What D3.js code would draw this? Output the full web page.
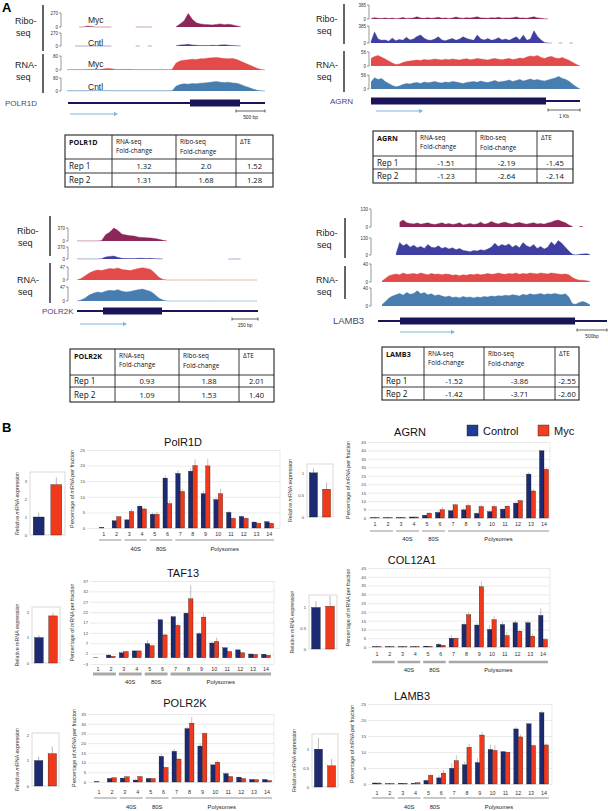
<!DOCTYPE html>
<html>
<head>
<meta charset="utf-8">
<script src="https://cdn.jsdelivr.net/npm/d3@7"></script>
<style>
  body { margin: 0; background: #fff; }
  svg { display: block; }
</style>
</head>
<body>
<div id="container"></div>
<script>
// ---------- panel A : coverage tracks (null = no data) ----------
const polr1dRiboMyc  = [null,null,null,0,0,15,10,0,0,0,0,0,null,null,null,null,null,0,0,0,0,0,null,null,null,null,null,5,60,120,260,150,80,60,50,45,40,50,60,45,55,40,20,5,null,null,null,null,null,null];
const polr1dRiboCntl = [null,null,0,0,0,0,0,0,0,0,0,0,null,null,null,null,null,0,0,null,0,0,null,null,0,null,null,5,20,25,35,20,15,10,10,10,15,10,20,25,15,10,5,0,null,null,null,null,null,null];
const polr1dRnaMyc   = [1,2,2,2,2,3,3,3,3,6,8,7,3,3,3,3,3,2,2,2,2,2,2,2,2,2,3,40,52,56,58,62,60,64,65,68,70,72,68,66,64,66,60,50,40,30,20,10,3,0];
const polr1dRnaCntl  = [1,1,1,1,1,2,2,2,2,2,2,1,1,1,1,1,1,1,1,1,1,1,1,1,1,1,1,30,40,44,42,46,44,48,50,52,56,58,54,52,54,50,48,40,30,22,12,5,1,0];

const agrnRiboMyc  = [10,35,20,15,30,12,25,10,18,40,15,22,30,60,25,18,35,20,28,45,20,30,15,25,55,30,20,35,25,40,60,30,25,20,35,28,45,22,30,25,35,55,25,30,20,40,60,30,20,5,0,null,0,null,null,0,null,0,null,0];
const agrnRiboCntl = [30,250,90,60,70,40,110,50,80,60,130,70,90,150,180,110,70,60,90,140,70,50,80,100,60,90,140,100,80,60,180,90,70,100,60,80,120,70,90,60,100,140,70,180,60,90,280,150,70,10,0,0,null,0,0,null,0,0,null,0];
const agrnRnaMyc   = [30,38,42,35,28,20,12,6,8,14,18,20,22,24,22,26,24,25,28,26,24,27,25,28,26,24,27,29,25,27,30,28,26,24,28,30,27,25,28,30,26,28,32,30,36,40,38,42,34,30,36,38,32,30,34,28,22,14,6,0];
const agrnRnaCntl  = [28,45,38,42,30,22,14,9,12,18,22,20,24,26,22,28,25,27,30,26,24,28,26,30,28,25,22,26,28,30,27,32,28,26,30,34,28,30,32,36,30,34,38,32,36,40,35,38,34,32,36,40,44,50,42,38,30,18,8,0];

const polr2kRiboMyc  = [3,3,3,3,3,3,10,180,250,370,300,190,170,150,140,110,100,90,85,70,50,20,0,null,null,null,null,null,null,null,null,null,null,null,null,null,null,null,null,null,null,null,null,null,null];
const polr2kRiboCntl = [3,3,3,3,3,3,10,60,80,90,50,20,15,15,15,20,25,15,20,10,5,0,null,null,null,null,null,null,null,null,null,null,null,null,null,null,null,0,0,0,0,null,null,null,null];
const polr2kRnaMyc   = [0,5,15,25,32,36,34,38,42,40,43,38,36,34,38,42,44,42,38,25,10,2,0,0,0,0,0,0,0,0,0,0,0,0,0,0,0,0,0,0,0,0,0,0,0];
const polr2kRnaCntl  = [0,3,10,20,26,30,28,33,36,34,38,33,30,32,35,38,40,36,32,22,10,3,0,0,0,0,0,0,0,0,0,0,0,0,0,0,0,0,0,0,0,0,0,0,0];

const lamb3RiboMyc  = [null,null,3,null,null,35,50,30,25,22,28,20,25,30,22,18,24,30,20,25,18,22,30,15,20,25,18,22,35,20,25,40,28,22,30,35,25,20,28,32,25,20,26,30,22,25,20,28,35,45,50,40,30,15,3,null,3,3,null,3];
const lamb3RiboCntl = [null,null,5,null,10,95,70,85,60,75,55,65,50,80,60,55,70,50,60,45,55,40,50,35,30,25,35,30,40,35,45,60,90,65,80,70,85,60,75,55,95,70,60,80,50,65,45,60,100,75,110,90,60,30,5,0,5,8,10,3];
const lamb3RnaMyc   = [2,8,14,16,18,16,20,17,18,19,17,20,18,16,19,17,18,16,18,17,15,16,14,16,15,17,16,18,16,17,19,17,18,20,18,17,19,18,20,17,19,18,20,19,18,20,19,18,20,19,18,17,18,16,10,6,4,4,3,1];
const lamb3RnaCntl  = [3,10,18,22,25,28,24,30,26,28,34,27,30,25,27,23,25,22,20,22,19,20,18,21,19,20,18,20,19,21,20,22,21,23,22,24,23,25,24,22,26,24,27,25,26,28,25,27,26,28,26,25,27,20,5,4,8,10,7,2];

// track scale maxima (printed on the tracks)
const polr1dMax = [270, 270, 80, 80];
const agrnMax   = [385, 385, 56, 56];
const polr2kMax = [370, 370, 47, 47];
const lamb3Max  = [130, 130, 40, 40];

// ---------- panel A : tables ----------
const tableHead = [["RNA-seq", "Fold-change"], ["Ribo-seq", "Fold-change"], ["ΔTE"]];
const repNames  = ["Rep 1", "Rep 2"];
const polr1dTable = [["1.32", "2.0", "1.52"], ["1.31", "1.68", "1.28"]];
const agrnTable   = [["-1.51", "-2.19", "-1.45"], ["-1.23", "-2.64", "-2.14"]];
const polr2kTable = [["0.93", "1.88", "2.01"], ["1.09", "1.53", "1.40"]];
const lamb3Table  = [["-1.52", "-3.86", "-2.55"], ["-1.42", "-3.71", "-2.60"]];

// ---------- panel B : polysome profiles ----------
const fractions = ["1","2","3","4","5","6","7","8","9","10","11","12","13","14"];
const fractionGroups = [["", "1", "2"], ["40S", "3", "4"], ["80S", "5", "6"], ["Polysomes", "7", "14"]];
const seriesNames = ["Control", "Myc"];

const polr1dCtrl    = [0.2,2.3,2.6,7.0,4.4,16.0,17.5,18.2,11.0,9.1,5.0,3.7,1.9,2.0];
const polr1dMyc     = [0,3.6,5.3,6.1,4.4,7.8,11.7,20.0,19.9,11.0,3.1,3.1,1.5,1.5];
const polr1dCtrlErr = [0,0.3,0.3,0.5,0.5,0.8,1.0,0.8,1.0,0.8,0.5,0.3,0.2,0.2];
const polr1dMycErr  = [0,0.3,0.7,0.5,0.8,1.0,0.8,2.0,2.3,1.6,0.3,0.3,0.2,0.2];

const agrnCtrl    = [0.2,0.2,0.3,0.6,1.6,3.3,4.3,4.8,2.7,3.8,5.2,8.8,26.0,39.8];
const agrnMyc     = [0.2,0.2,0.3,0.6,2.9,4.9,7.8,7.4,6.8,6.8,7.0,10.3,16.0,28.8];
const agrnCtrlErr = [0,0,0,0,0.3,0.8,0.4,1.2,0.8,0.6,0.8,0.5,1.0,0.5];
const agrnMycErr  = [0,0,0,0,0.3,1.5,0.5,1.2,0.8,1.2,0.8,0.5,1.0,0.8];

const taf13Ctrl    = [0.1,1.3,2.4,3.3,6.8,18.3,19.8,21.5,11.6,7.1,4.8,3.8,1.8,1.7];
const taf13Myc     = [0,0.7,3.0,3.3,5.8,11.0,15.6,28.4,19.6,7.9,3.0,2.4,1.6,1.2];
const taf13CtrlErr = [0,0.3,0.5,0.3,1.8,0.5,0.5,0.4,0.8,1.0,0.5,0.3,0.2,0.2];
const taf13MycErr  = [0,0.2,0.3,0.3,0.5,0.5,0.6,6.5,1.8,1.8,0.3,0.3,0.2,0.2];

const col12a1Ctrl    = [0.2,0.2,0.2,0.2,0.5,1.5,5.0,12.9,12.5,10.0,12.8,13.8,13.8,18.0];
const col12a1Myc     = [0.2,0.2,0.2,0.2,0.3,1.0,5.0,18.4,34.3,15.6,6.5,9.0,6.2,4.3];
const col12a1CtrlErr = [0,0,0,0,0.1,0.8,2.0,1.0,1.2,2.5,1.5,1.2,1.2,4.0];
const col12a1MycErr  = [0,0,0,0,0.1,0.3,0.3,1.5,3.0,2.0,2.0,0.8,1.5,0.6];

const polr2kCtrl    = [0.2,1.8,2.0,1.0,1.8,13.2,15.8,27.5,18.5,8.8,4.3,2.5,1.3,1.3];
const polr2kMyc     = [0,2.2,2.7,2.8,1.8,7.5,11.8,30.3,25.0,10.2,2.8,1.8,1.2,0.8];
const polr2kCtrlErr = [0,0.2,0.3,0.3,0.2,1.3,1.2,1.0,1.5,0.3,0.3,0.3,0.2,0.2];
const polr2kMycErr  = [0,0.2,0.3,0.3,0.2,0.3,0.5,3.2,0.5,1.0,0.3,0.2,0.2,0.2];

const lamb3Ctrl    = [0.3,0.1,0.2,0.2,1.1,1.9,4.9,6.0,6.7,10.8,10.1,17.2,18.8,22.3];
const lamb3Myc     = [0.3,0.1,0.2,0.4,2.7,3.4,7.3,11.5,15.3,10.5,9.9,14.7,12.0,12.2];
const lamb3CtrlErr = [0.3,0,0.1,0.1,0.5,0.8,1.6,1.0,1.3,1.5,0.3,0.6,0.3,0.5];
const lamb3MycErr  = [0.3,0,0.1,0.1,0.6,1.0,1.7,1.0,1.0,1.7,0.2,0.8,0.3,0.5];

// relative mRNA expression (Control, Myc) and error
const polr1dRel  = [1.0, 2.8],  polr1dRelErr  = [0.25, 0.4];
const agrnRel    = [1.0, 0.63], agrnRelErr    = [0.1, 0.15];
const taf13Rel   = [1.0, 1.85], taf13RelErr   = [0.1, 0.12];
const col12a1Rel = [1.0, 1.03], col12a1RelErr = [0.15, 0.25];
const polr2kRel  = [1.0, 1.27], polr2kRelErr  = [0.15, 0.28];
const lamb3Rel   = [1.0, 0.56], lamb3RelErr   = [0.3, 0.18];

// ---------------------------------------------------------------------------
const W = 608, H = 811;
const svg = d3.select("#container").append("svg").attr("width", W).attr("height", H);
const SANS = "'Liberation Sans', Arial, sans-serif";
const TBL = "'Open Sans', 'Liberation Sans', sans-serif";

const trackColors = ["#86194f", "#35359c", "#e0413f", "#3d76ab"];
const ctrlColor = "#1c2a72", mycColor = "#f0391a";

svg.append("text").attr("x", 2).attr("y", 12).text("A")
  .attr("font-family", SANS).attr("font-weight", "bold").attr("font-size", 13);
svg.append("text").attr("x", 2).attr("y", 432).text("B")
  .attr("font-family", SANS).attr("font-weight", "bold").attr("font-size", 13);

function drawGene(c, tracks, maxes) {
  const g = svg.append("g");
  const x = d3.scaleLinear().domain([0, tracks[0].length - 1]).range([c.x0, c.x1]);
  tracks.forEach((vals, k) => {
    const [top, base] = c.tracks[k];
    const y = d3.scaleLinear().domain([0, maxes[k]]).range([base, top]);
    const area = d3.area().defined(d => d != null).x((d, i) => x(i)).y0(base).y1(d => y(d));
    const line = d3.line().defined(d => d != null).x((d, i) => x(i)).y(d => y(d));
    g.append("path").attr("d", area(vals)).attr("fill", trackColors[k]).attr("opacity", 0.95);
    g.append("path").attr("d", line(vals)).attr("fill", "none")
      .attr("stroke", trackColors[k]).attr("stroke-width", 0.6).attr("opacity", 0.7);
    // scale bracket
    g.append("path").attr("d", `M${c.bx - 2},${top}H${c.bx}V${base}H${c.bx - 2}`)
      .attr("fill", "none").attr("stroke", "#333").attr("stroke-width", 0.5);
    g.append("text").attr("x", c.bx - 3).attr("y", top + 2).text(maxes[k])
      .attr("text-anchor", "end").attr("font-family", SANS).attr("font-size", 4.5).attr("fill", "#333");
    g.append("text").attr("x", c.bx - 3).attr("y", base + 1.5).text("0")
      .attr("text-anchor", "end").attr("font-family", SANS).attr("font-size", 4.5).attr("fill", "#333");
    if (c.sampleX) {
      g.append("text").attr("x", c.sampleX).attr("y", c.sampleY[k]).text(k % 2 ? "Cntl" : "Myc")
        .attr("font-family", SANS).attr("font-size", 8.5).attr("fill", "#222");
    }
  });
  // Ribo-seq / RNA-seq labels and bars
  [["Ribo-", "seq"], ["RNA-", "seq"]].forEach((lab, k) => {
    g.append("text").attr("x", c.lx).attr("y", c.ly[k]).text(lab[0])
      .attr("font-family", SANS).attr("font-size", 9).attr("fill", "#222");
    g.append("text").attr("x", c.lx + 1).attr("y", c.ly[k] + 12).text(lab[1])
      .attr("font-family", SANS).attr("font-size", 9).attr("fill", "#222");
    g.append("line").attr("x1", c.vx).attr("x2", c.vx).attr("y1", c.vbars[k][0]).attr("y2", c.vbars[k][1])
      .attr("stroke", "#111").attr("stroke-width", 1.3);
  });
  // gene model
  g.append("text").attr("x", c.nameX).attr("y", c.geneY + 3).text(c.name)
    .attr("font-family", SANS).attr("font-size", c.nameSize || 8).attr("fill", c.nameColor || "#4b3f8f");
  g.append("line").attr("x1", c.gx0).attr("x2", c.gx1).attr("y1", c.geneY).attr("y2", c.geneY)
    .attr("stroke", "#1a1458").attr("stroke-width", 2.2);
  g.append("rect").attr("x", c.cds[0]).attr("y", c.geneY - 3.5).attr("width", c.cds[1] - c.cds[0]).attr("height", 7)
    .attr("fill", "#1a1458");
  // direction arrow
  g.append("line").attr("x1", c.arrow[0]).attr("x2", c.arrow[1] - 3).attr("y1", c.arrow[2]).attr("y2", c.arrow[2])
    .attr("stroke", "#7db6df").attr("stroke-width", 1.2);
  g.append("path").attr("d", `M${c.arrow[1]},${c.arrow[2]}l-4,-2.2v4.4z`).attr("fill", "#7db6df");
  // scale bar
  const [s0, s1, sy] = c.sbar;
  g.append("path").attr("d", `M${s0},${sy - 1.5}V${sy + 1.5}M${s0},${sy}H${s1}M${s1},${sy - 1.5}V${sy + 1.5}`)
    .attr("stroke", "#222").attr("stroke-width", 0.7).attr("fill", "none");
  g.append("text").attr("x", (s0 + s1) / 2).attr("y", sy + 8).text(c.sbarText)
    .attr("text-anchor", "middle").attr("font-family", SANS).attr("font-size", 4.8).attr("fill", "#222");
}

drawGene({
  x0: 67, x1: 265, tracks: [[13, 27], [33, 46], [56, 70], [78, 91]], bx: 61,
  sampleX: 88, sampleY: [23, 46, 67, 90],
  lx: 15, ly: [24, 68], vx: 43, vbars: [[5, 51], [54, 93]],
  name: "POLR1D", nameX: 5, geneY: 103, gx0: 68, gx1: 265, cds: [190, 240],
  arrow: [70, 118, 114], sbar: [236, 265, 111], sbarText: "500 bp"
}, [polr1dRiboMyc, polr1dRiboCntl, polr1dRnaMyc, polr1dRnaCntl], polr1dMax);

drawGene({
  x0: 371, x1: 580, tracks: [[5, 19], [26, 43], [52, 66], [75, 89]], bx: 369,
  lx: 316, ly: [22, 68], vx: 344, vbars: [[4, 44], [51, 92]],
  name: "AGRN", nameX: 330, geneY: 101, gx0: 371, gx1: 580, cds: [371, 546],
  arrow: [376, 423, 111], sbar: [548, 580, 110], sbarText: "1 Kb"
}, [agrnRiboMyc, agrnRiboCntl, agrnRnaMyc, agrnRnaCntl], agrnMax);

drawGene({
  x0: 77, x1: 257, tracks: [[228, 241], [247, 259], [267, 280], [287, 301]], bx: 68,
  lx: 17, ly: [234, 283], vx: 50, vbars: [[216, 256], [263, 303]],
  name: "POLR2K", nameX: 42, geneY: 311, gx0: 77, gx1: 258, cds: [103, 162],
  arrow: [80, 127, 324], sbar: [232, 258, 319], sbarText: "150 bp"
}, [polr2kRiboMyc, polr2kRiboCntl, polr2kRnaMyc, polr2kRnaCntl], polr2kMax);

drawGene({
  x0: 382, x1: 590, tracks: [[209, 227], [238, 255], [264, 282], [288, 306]], bx: 371,
  lx: 316, ly: [236, 283], vx: 345, vbars: [[218, 258], [266, 299]],
  name: "LAMB3", nameX: 333, nameSize: 9.5, nameColor: "#3f4a66", geneY: 321, gx0: 378, gx1: 607, cds: [400, 575],
  arrow: [400, 455, 332], sbar: [577, 607, 330], sbarText: "500bp"
}, [lamb3RiboMyc, lamb3RiboCntl, lamb3RnaMyc, lamb3RnaCntl], lamb3Max);

function drawTable(gene, cols, rows, vals) {
  const g = svg.append("g").attr("font-family", TBL).attr("fill", "#111");
  const x0 = cols[0], x1 = cols[cols.length - 1], y0 = rows[0], y1 = rows[rows.length - 1];
  g.append("rect").attr("x", x0).attr("y", y0).attr("width", x1 - x0).attr("height", y1 - y0)
    .attr("fill", "#fff").attr("stroke", "#222").attr("stroke-width", 1.1);
  cols.slice(1, -1).forEach(cx => g.append("line").attr("x1", cx).attr("x2", cx).attr("y1", y0).attr("y2", y1)
    .attr("stroke", "#222").attr("stroke-width", 0.9));
  rows.slice(1, -1).forEach(ry => g.append("line").attr("x1", x0).attr("x2", x1).attr("y1", ry).attr("y2", ry)
    .attr("stroke", "#222").attr("stroke-width", 0.9));
  g.append("text").attr("x", x0 + 4).attr("y", y0 + 10).text(gene)
    .attr("font-weight", "bold").attr("font-size", 7.2);
  tableHead.forEach((lines, j) => {
    lines.forEach((t, l) => g.append("text").attr("x", cols[j + 1] + 4).attr("y", y0 + 9 + l * (9 + j))
      .text(t).attr("font-size", 6.4));
  });
  vals.forEach((row, r) => {
    const cy = (rows[r + 1] + rows[r + 2]) / 2 + 3;
    g.append("text").attr("x", x0 + 4).attr("y", cy).text(repNames[r]).attr("font-size", 8.2);
    row.forEach((v, j) => g.append("text").attr("x", (cols[j + 1] + cols[j + 2]) / 2).attr("y", cy)
      .attr("text-anchor", "middle").text(v).attr("font-size", 7.6));
  });
}

drawTable("POLR1D", [65, 112, 176, 236, 273], [135, 159, 173, 187], polr1dTable);
drawTable("AGRN", [373, 416, 476, 537, 573], [131, 156, 169, 183], agrnTable);
drawTable("POLR2K", [70, 115, 179, 239, 274], [349, 375, 387, 402], polr2kTable);
drawTable("LAMB3", [382, 424, 484, 555, 579], [347, 375, 387, 400], lamb3Table);

// ---------- panel B ----------
function drawPolysome(c, ctrl, myc, ctrlErr, mycErr) {
  const g = svg.append("g").attr("font-family", SANS);
  const x = d3.scaleBand().domain(fractions).range(c.band).paddingInner(0.3).paddingOuter(0.15);
  const xs = d3.scaleBand().domain(seriesNames).range([0, x.bandwidth()]);
  const y = d3.scaleLinear().domain(c.ydom).range([c.py1, c.py0]);
  // grid + frame
  const yAxis = d3.axisLeft(y).tickValues(c.ticks).tickSize(-(c.px1 - c.px0)).tickPadding(2);
  const ag = g.append("g").attr("transform", `translate(${c.px0},0)`).call(yAxis);
  ag.select(".domain").remove();
  ag.selectAll(".tick line").attr("stroke", "#dcdcdc").attr("stroke-width", 0.6);
  ag.selectAll(".tick text").attr("font-size", 4.2).attr("fill", "#444").attr("font-family", SANS);
  g.append("line").attr("x1", c.px1).attr("x2", c.px1).attr("y1", c.py0).attr("y2", c.py1)
    .attr("stroke", "#dcdcdc").attr("stroke-width", 0.6);
  const zero = y(0);
  [[ctrl, ctrlErr, "Control", ctrlColor], [myc, mycErr, "Myc", mycColor]].forEach(([vals, errs, s, col]) => {
    g.selectAll(null).data(fractions).enter().append("line")
      .attr("x1", d => x(d) + xs(s) + xs.bandwidth() / 2).attr("x2", d => x(d) + xs(s) + xs.bandwidth() / 2)
      .attr("y1", (d, i) => y(vals[i])).attr("y2", (d, i) => y(vals[i] + errs[i]))
      .attr("stroke", "#9a9a9a").attr("stroke-width", 0.6);
    g.selectAll(null).data(fractions).enter().append("rect")
      .attr("x", d => x(d) + xs(s)).attr("width", xs.bandwidth())
      .attr("y", (d, i) => Math.min(y(vals[i]), zero)).attr("height", (d, i) => Math.abs(zero - y(vals[i])))
      .attr("fill", col).attr("stroke", "#111").attr("stroke-width", 0.3);
  });
  // fraction numbers
  g.selectAll(null).data(fractions).enter().append("text")
    .attr("x", d => x(d) + x.bandwidth() / 2).attr("y", c.catY).text(d => d)
    .attr("text-anchor", "middle").attr("dominant-baseline", "central").attr("font-size", 5.4).attr("fill", "#333");
  // fraction groups
  fractionGroups.forEach(([lab, a, b]) => {
    const s0 = x(a) - x.step() * x.paddingInner() / 2 + 1.5, s1 = x(b) + x.bandwidth() + x.step() * x.paddingInner() / 2 - 1.5;
    g.append("line").attr("x1", s0).attr("x2", s1).attr("y1", c.lineY).attr("y2", c.lineY)
      .attr("stroke", c.lineW > 1 ? "#a8a8a8" : "#777").attr("stroke-width", c.lineW);
    if (lab) g.append("text").attr("x", (s0 + s1) / 2).attr("y", c.groupY).text(lab)
      .attr("text-anchor", "middle").attr("dominant-baseline", "central").attr("font-size", 5.8).attr("fill", "#222");
  });
  // y label and title
  g.append("text").attr("transform", `translate(${c.yLabX},${(c.py0 + c.py1) / 2}) rotate(-90)`)
    .attr("text-anchor", "middle").attr("font-size", 5.3).attr("fill", "#333")
    .html('Percentage of <tspan font-style="italic">m</tspan>RNA per fraction');
  g.append("text").attr("x", c.title[1]).attr("y", c.title[2]).text(c.title[0])
    .attr("text-anchor", "middle").attr("dominant-baseline", "central").attr("font-size", 11).attr("fill", "#111");
}

function drawRelative(c, vals, errs) {
  const g = svg.append("g").attr("font-family", SANS);
  const [bx0, bx1, by0, by1] = c.box;
  const x = d3.scaleBand().domain(seriesNames).range([bx0, bx1]).paddingInner(0.38).paddingOuter(0.18);
  const y = d3.scaleLinear().domain([0, c.ymax]).range([by1, by0]);
  g.append("rect").attr("x", bx0).attr("y", by0).attr("width", bx1 - bx0).attr("height", by1 - by0)
    .attr("fill", "none").attr("stroke", "#cfcfcf").attr("stroke-width", 0.8);
  const ax = g.append("g").attr("transform", `translate(${bx0},0)`)
    .call(d3.axisLeft(y).tickValues(c.ticks).tickFormat(d => String(d)).tickSize(0).tickPadding(3));
  ax.select(".domain").remove();
  ax.selectAll(".tick text").attr("font-size", 4.2).attr("fill", "#444").attr("font-family", SANS);
  seriesNames.forEach((s, i) => {
    const cx = x(s) + x.bandwidth() / 2;
    g.append("line").attr("x1", cx).attr("x2", cx).attr("y1", y(vals[i])).attr("y2", y(vals[i] + errs[i]))
      .attr("stroke", "#9a9a9a").attr("stroke-width", 0.7);
    g.append("rect").attr("x", x(s)).attr("width", x.bandwidth()).attr("y", y(vals[i]))
      .attr("height", y(0) - y(vals[i])).attr("fill", i ? mycColor : ctrlColor)
      .attr("stroke", "#111").attr("stroke-width", 0.3);
  });
  g.append("text").attr("transform", `translate(${c.yLabX},${(by0 + by1) / 2}) rotate(-90)`)
    .attr("text-anchor", "middle").attr("font-size", 5.3).attr("fill", "#333")
    .html('Relative <tspan font-style="italic">m</tspan>RNA expression');
}

const ticks5 = m => d3.range(0, m + 1, 5);

drawPolysome({ px0: 87, px1: 280, py0: 450, py1: 528, band: [97.5, 275.5], ydom: [0, 25], ticks: ticks5(25),
  catY: 534, lineY: 540, lineW: 0.8, groupY: 549, yLabX: 74, title: ["PolR1D", 183, 442] },
  polr1dCtrl, polr1dMyc, polr1dCtrlErr, polr1dMycErr);
drawRelative({ box: [30, 65, 472, 535], ymax: 3.5, ticks: [0, 1, 2, 3], yLabX: 19 }, polr1dRel, polr1dRelErr);

drawPolysome({ px0: 368, px1: 550, py0: 442, py1: 518, band: [368.5, 550.5], ydom: [0, 45], ticks: ticks5(45),
  catY: 524, lineY: 531, lineW: 0.8, groupY: 539, yLabX: 350, title: ["AGRN", 410, 432] },
  agrnCtrl, agrnMyc, agrnCtrlErr, agrnMycErr);
drawRelative({ box: [307, 333, 464, 517], ymax: 1.2, ticks: [0, 0.5, 1], yLabX: 292 }, agrnRel, agrnRelErr);

drawPolysome({ px0: 90, px1: 274, py0: 581, py1: 664, band: [91.5, 272.5], ydom: [-3, 37], ticks: d3.range(-3, 38, 5),
  catY: 669, lineY: 674, lineW: 3, groupY: 682, yLabX: 74, title: ["TAF13", 183, 573] },
  taf13Ctrl, taf13Myc, taf13CtrlErr, taf13MycErr);
drawRelative({ box: [32, 60, 607, 663], ymax: 2.2, ticks: [0, 1, 2], yLabX: 19 }, taf13Rel, taf13RelErr);

drawPolysome({ px0: 368, px1: 550, py0: 568, py1: 647, band: [370.6, 549.4], ydom: [0, 45], ticks: ticks5(45),
  catY: 654, lineY: 662, lineW: 2.5, groupY: 670, yLabX: 350, title: ["COL12A1", 412, 560] },
  col12a1Ctrl, col12a1Myc, col12a1CtrlErr, col12a1MycErr);
drawRelative({ box: [309, 337, 595, 649], ymax: 1.3, ticks: [0, 0.5, 1], yLabX: 294 }, col12a1Rel, col12a1RelErr);

drawPolysome({ px0: 88, px1: 274, py0: 714, py1: 782, band: [92.5, 273.5], ydom: [0, 35], ticks: ticks5(35),
  catY: 792, lineY: 798, lineW: 0.8, groupY: 807, yLabX: 76, title: ["POLR2K", 185, 703] },
  polr2kCtrl, polr2kMyc, polr2kCtrlErr, polr2kMycErr);
drawRelative({ box: [32, 59, 733, 786], ymax: 2.08, ticks: [0, 1, 2], yLabX: 19 }, polr2kRel, polr2kRelErr);

drawPolysome({ px0: 368, px1: 552, py0: 704, py1: 784, band: [370.6, 550.4], ydom: [0, 25], ticks: ticks5(25),
  catY: 793, lineY: 798, lineW: 0.8, groupY: 807, yLabX: 354, title: ["LAMB3", 412, 696] },
  lamb3Ctrl, lamb3Myc, lamb3CtrlErr, lamb3MycErr);
drawRelative({ box: [312, 338, 734, 787], ymax: 1.4, ticks: [0, 0.5, 1], yLabX: 296 }, lamb3Rel, lamb3RelErr);

// legend
const lg = svg.append("g").attr("font-family", SANS);
seriesNames.forEach((s, i) => {
  const lx = [467, 538][i];
  lg.append("rect").attr("x", lx).attr("y", 425).attr("width", 11).attr("height", 11)
    .attr("fill", i ? "#ec4120" : "#1f3d94").attr("stroke", "#222").attr("stroke-width", 0.4);
  lg.append("text").attr("x", lx + 16).attr("y", 431).text(s).attr("dominant-baseline", "central")
    .attr("font-size", 11).attr("fill", "#111");
});
</script>
</body>
</html>
